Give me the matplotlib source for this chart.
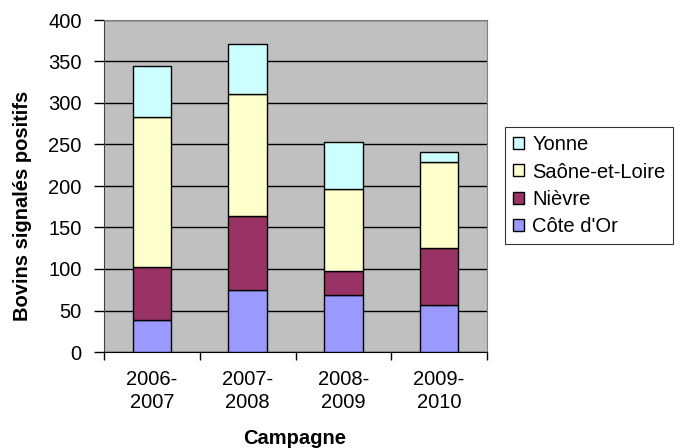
import matplotlib.pyplot as plt
import numpy as np

# --- DONNÉES ---
campagnes = ["2006-\n2007", "2007-\n2008", "2008-\n2009", "2009-\n2010"]
cote_dor = [38, 75, 69, 57]
nievre = [64, 89, 28, 68]
saone_et_loire = [181, 147, 99, 104]
yonne = [61, 60, 57, 12]

series = [
    ("Côte d'Or", cote_dor, "#9999FF"),
    ("Nièvre", nievre, "#993366"),
    ("Saône-et-Loire", saone_et_loire, "#FFFFCC"),
    ("Yonne", yonne, "#CCFFFF"),
]

plt.rcParams["font.family"] = ["Liberation Sans", "DejaVu Sans"]
plt.rcParams["font.size"] = 14.5

fig = plt.figure(figsize=(6.8, 4.48), dpi=100)
ax = fig.add_axes([104 / 680, 1 - 352 / 448, 383 / 680, 332 / 448])
ax.set_facecolor("#C0C0C0")

x = np.arange(len(campagnes))
bottom = np.zeros(len(campagnes))
handles = []
for name, vals, color in series:
    b = ax.bar(x, vals, width=0.4, bottom=bottom, color=color,
               edgecolor="black", linewidth=1, label=name, zorder=3)
    handles.append(b)
    bottom += np.array(vals)

ax.set_xlim(-0.5, 3.5)
ax.set_ylim(0, 400)
ax.set_yticks(range(0, 401, 50))
ax.yaxis.grid(True, color="black", linewidth=1, zorder=1)

# graduations entre les catégories, étiquettes au centre
ax.set_xticks(np.arange(-0.5, 4, 1))
ax.set_xticklabels([])
ax.set_xticks(x, minor=True)
ax.set_xticklabels(campagnes, minor=True, linespacing=1.25)
ax.tick_params(axis="x", which="major", direction="out", length=6, width=1)
ax.tick_params(axis="x", which="minor", length=0, pad=13)
ax.tick_params(axis="y", direction="out", length=7, width=1, pad=9)

for side in ["top", "right"]:
    ax.spines[side].set_color("#808080")
ax.spines["left"].set_color("#404040")
ax.spines["bottom"].set_color("black")

fig.text(23 / 680, 1 - 206 / 448, "Bovins signalés positifs", rotation=90,
         ha="center", va="center", fontweight="bold")
fig.text(295 / 680, 1 - 438 / 448, "Campagne", ha="center", va="center",
         fontweight="bold")

leg = fig.legend(handles[::-1], [s[0] for s in series][::-1],
                 loc="upper left", bbox_to_anchor=(505 / 680, 1 - 127 / 448),
                 frameon=True, fancybox=False, edgecolor="black",
                 handlelength=0.55, handleheight=0.55, handletextpad=0.4,
                 labelspacing=0.42, borderpad=0.4, borderaxespad=0)
leg.get_frame().set_linewidth(0.8)

fig.savefig("out.png", dpi=100)
